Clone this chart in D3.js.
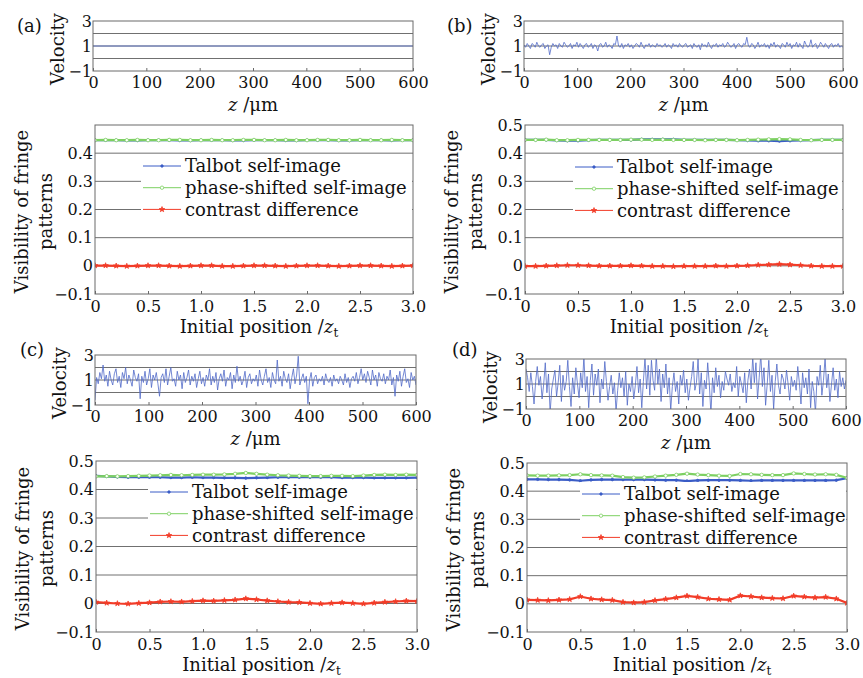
<!DOCTYPE html>
<html>
<head>
<meta charset="utf-8">
<script src="https://cdn.jsdelivr.net/npm/d3@7"></script>
<style>
  html, body { margin: 0; padding: 0; background: #fff; }
</style>
</head>
<body>
<div id="chart"></div>
<script>
// velocity along z (0..600 um), one array per panel
const velA = [1, 1];
const velB = [1.1,0.9,1.2,1.0,0.8,1.2,1.1,0.9,1.3,1.0,0.9,1.1,1.2,0.8,1.0,1.1,0.3,0.9,1.2,1.0,
  1.1,0.8,1.2,1.0,0.9,1.3,1.1,0.9,1.0,1.2,0.8,1.1,1.0,1.3,0.9,1.2,1.0,0.8,1.1,1.2,
  0.9,1.0,1.2,0.8,1.1,1.0,0.6,1.1,1.2,0.9,1.0,1.3,0.9,1.1,1.0,0.8,1.2,1.1,1.8,1.0,
  0.9,1.2,0.8,1.1,1.0,1.2,0.9,1.1,0.8,1.0,1.2,1.1,0.9,1.3,1.0,0.8,1.1,1.0,1.2,0.9,
  1.1,1.0,0.9,1.2,1.0,1.1,0.9,1.0,1.2,0.9,1.1,1.0,0.8,1.2,1.0,1.1,0.9,1.2,1.0,0.9,
  1.1,1.2,0.9,1.0,1.1,0.8,1.2,1.0,0.9,1.1,0.7,1.2,1.0,1.1,0.9,1.3,1.0,0.8,1.1,1.0,
  1.2,0.9,1.1,1.0,1.2,0.9,1.0,1.3,1.1,0.9,1.0,1.2,0.8,1.1,1.2,1.0,0.9,1.2,1.1,1.7,
  1.0,0.9,1.2,1.1,0.8,1.0,1.3,0.9,1.1,1.0,1.2,0.9,1.1,0.8,1.2,1.0,1.3,0.9,1.1,1.0,
  0.8,1.2,1.1,0.9,1.3,1.0,1.2,0.8,1.1,1.0,1.3,0.9,1.2,1.0,0.8,1.4,1.1,0.9,1.0,1.5,
  0.9,1.1,1.2,0.8,1.0,1.3,1.1,0.9,1.2,1.0,0.8,1.1,1.2,0.9,1.1,1.0,1.2,0.9,1.0,0.9];
const velC = [-0.6,1.2,0.7,1.6,1.1,2.2,0.9,1.4,0.5,1.7,1.0,0.6,1.5,1.9,0.8,1.3,0.4,1.6,1.1,2.0,
  0.7,1.4,1.0,0.5,1.8,1.2,0.9,1.5,-0.5,1.3,0.8,1.7,0.6,1.1,1.9,0.4,1.4,1.0,1.6,0.7,
  -0.3,1.2,1.5,0.8,1.9,0.6,1.3,2.0,0.9,1.1,0.5,1.7,1.0,1.4,0.3,1.6,0.8,1.2,1.8,0.6,
  1.3,0.9,1.5,0.4,1.1,1.7,0.7,1.2,0.5,1.4,1.0,1.9,0.6,1.3,0.8,1.6,0.2,1.1,1.5,0.9,
  1.8,0.5,1.2,1.0,1.6,0.3,1.4,0.8,2.1,0.9,1.3,0.6,1.0,1.7,0.4,1.2,1.5,0.7,1.1,0.9,
  1.4,0.5,1.8,1.0,0.6,1.3,1.9,0.8,1.2,0.4,1.6,1.0,0.7,2.6,0.9,1.3,0.5,1.7,1.1,0.8,
  1.5,0.3,1.2,1.9,0.7,1.4,2.9,0.6,1.1,1.5,0.8,1.3,-0.9,1.0,1.6,0.5,1.2,1.4,0.7,1.1,
  0.9,1.3,0.6,1.5,1.0,0.8,1.2,0.5,1.4,0.9,1.1,0.7,1.3,1.0,0.6,1.5,0.8,1.2,0.4,1.1,
  1.3,0.9,1.6,0.7,1.2,1.9,1.0,1.5,0.8,1.7,1.2,0.6,1.8,1.0,1.4,0.5,1.6,1.1,0.9,1.5,
  0.7,1.3,1.0,1.8,0.6,1.2,-0.3,1.4,0.9,1.7,0.5,1.3,1.9,0.8,1.1,0.4,1.6,1.0,1.3,0.6];
const velD = [2.2,1.5,0.4,1.9,0.8,-0.6,1.2,2.4,0.9,1.6,-0.2,1.0,2.7,0.3,1.8,-1.3,0.6,1.4,2.1,0.0,
  1.1,2.5,-0.4,1.7,0.5,1.2,2.9,0.8,-0.8,1.5,0.2,2.3,1.0,-0.1,1.9,0.7,3.2,0.4,1.6,-0.9,
  1.3,2.6,0.1,1.8,0.9,2.2,-0.5,1.4,0.6,2.8,1.2,-0.3,0.8,1.7,0.2,1.1,-1.2,0.5,1.9,0.7,
  1.5,0.0,2.0,-0.7,1.0,0.4,1.6,-0.2,0.9,2.4,0.3,1.4,-0.9,1.2,3.1,0.6,2.5,0.1,2.9,1.3,
  0.5,3.3,1.0,2.2,-0.4,1.8,0.7,2.6,0.2,1.5,-1.1,0.8,1.9,0.4,1.2,-0.6,1.7,0.9,2.1,0.3,
  1.4,-0.3,0.7,1.6,2.8,0.5,1.1,3.0,0.2,1.9,-0.8,1.3,0.6,2.7,1.0,-1.4,1.5,0.3,2.3,0.8,
  1.7,-0.1,1.2,0.5,2.0,1.4,0.9,1.8,0.4,1.1,0.7,2.4,0.0,1.6,1.0,0.3,1.9,-0.5,1.3,2.2,
  0.6,3.2,1.1,2.7,-0.2,1.5,3.4,0.8,2.3,-0.7,1.0,2.9,0.4,1.7,-1.0,1.2,2.6,0.9,0.2,1.8,
  1.4,0.6,2.1,1.0,-0.3,1.6,0.8,1.3,0.5,2.4,1.1,-0.6,1.9,0.7,1.5,0.2,2.2,-0.9,1.2,0.4,
  -1.3,1.6,0.9,2.5,0.1,1.3,3.1,0.7,1.8,-0.4,1.0,2.3,0.5,1.4,-0.1,2.0,0.8,1.5,0.6,1.3];

// fringe visibility vs initial position (0..3 zt, step 0.1)
const talA = [0.446,0.446,0.446,0.445,0.445,0.446,0.446,0.446,0.445,0.445,0.446,0.446,0.446,0.445,0.445,0.446,0.446,0.446,0.445,0.445,0.446,0.446,0.446,0.445,0.445,0.446,0.446,0.446,0.445,0.446,0.446];
const phsA = [0.446,0.447,0.446,0.446,0.447,0.446,0.446,0.447,0.447,0.446,0.446,0.447,0.446,0.446,0.447,0.447,0.446,0.446,0.447,0.446,0.446,0.447,0.447,0.446,0.446,0.447,0.446,0.446,0.447,0.446,0.446];
const conA = [0.001,0.001,0.000,-0.001,0.000,0.001,0.001,0.000,-0.001,0.000,0.001,0.001,-0.001,-0.001,0.000,0.001,0.001,0.000,-0.001,0.000,0.001,0.001,0.000,-0.001,0.000,0.001,0.001,0.000,-0.001,0.000,0.001];

const talB = [0.447,0.447,0.447,0.445,0.444,0.444,0.446,0.447,0.447,0.447,0.447,0.449,0.449,0.449,0.449,0.447,0.447,0.447,0.447,0.447,0.446,0.445,0.444,0.444,0.443,0.444,0.445,0.446,0.447,0.447,0.447];
const phsB = [0.447,0.447,0.448,0.446,0.446,0.447,0.447,0.447,0.447,0.447,0.448,0.448,0.447,0.448,0.447,0.447,0.447,0.446,0.447,0.447,0.446,0.447,0.448,0.449,0.450,0.449,0.447,0.446,0.447,0.447,0.447];
const conB = [-0.001,-0.001,0.000,0.001,0.002,0.002,0.001,0.000,0.000,0.000,0.001,0.000,-0.001,-0.001,-0.002,-0.001,-0.001,-0.001,0.000,-0.001,0.000,0.001,0.003,0.004,0.006,0.004,0.002,0.000,-0.001,-0.001,-0.001];

const talC = [0.448,0.446,0.444,0.443,0.443,0.443,0.443,0.442,0.442,0.443,0.442,0.442,0.441,0.441,0.440,0.441,0.442,0.443,0.443,0.443,0.443,0.443,0.443,0.442,0.442,0.442,0.441,0.441,0.441,0.441,0.442];
const phsC = [0.446,0.447,0.446,0.447,0.448,0.449,0.450,0.451,0.450,0.451,0.452,0.452,0.453,0.455,0.458,0.455,0.452,0.450,0.449,0.448,0.447,0.447,0.448,0.448,0.447,0.449,0.451,0.452,0.451,0.452,0.451];
const conC = [0.005,0.002,0.000,-0.001,0.001,0.003,0.006,0.007,0.006,0.008,0.010,0.009,0.011,0.013,0.017,0.014,0.010,0.007,0.005,0.004,0.001,-0.001,0.001,0.003,0.001,-0.001,0.002,0.005,0.007,0.009,0.008];

const talD = [0.442,0.442,0.441,0.441,0.440,0.437,0.440,0.441,0.441,0.441,0.441,0.441,0.440,0.439,0.439,0.436,0.438,0.439,0.439,0.439,0.438,0.437,0.438,0.438,0.438,0.438,0.438,0.438,0.438,0.439,0.446];
const phsD = [0.456,0.455,0.455,0.456,0.457,0.460,0.457,0.456,0.455,0.450,0.448,0.449,0.452,0.455,0.458,0.462,0.459,0.457,0.455,0.454,0.461,0.460,0.458,0.457,0.457,0.463,0.461,0.459,0.460,0.458,0.447];
const conD = [0.014,0.013,0.012,0.014,0.016,0.026,0.018,0.015,0.013,0.006,0.004,0.006,0.012,0.017,0.022,0.028,0.024,0.018,0.016,0.014,0.029,0.026,0.022,0.020,0.019,0.028,0.025,0.022,0.024,0.018,0.003];

const zTicks = [0, 100, 200, 300, 400, 500, 600];
const velTicks = [-1, 1, 3];
const velGrid = [0, 1, 2];
const posTicks = [0, 0.5, 1.0, 1.5, 2.0, 2.5, 3.0];
const visTicks = [-0.1, 0, 0.1, 0.2, 0.3, 0.4, 0.5];
const visGrid = [0, 0.1, 0.2, 0.3, 0.4];
const seriesNames = ['Talbot self-image', 'phase-shifted self-image', 'contrast difference'];
const seriesColors = ['#3a5cc6', '#7dd062', '#f23c28'];

const gridColor = '#707070';
const frameColor = '#6a6a6a';
const velColor = '#5169c8';

// pick a serif face that is really installed (fontconfig may silently substitute)
const probeCtx = document.createElement('canvas').getContext('2d');
const probeW = (f) => { probeCtx.font = '20px ' + f; return probeCtx.measureText('Talbot self-image 0.123 WTf').width; };
const hasDejaVuSerif = Math.abs(probeW("'DejaVu Serif'") - probeW("'DejaVu Sans'")) > 0.5;
const FONT = hasDejaVuSerif ? "'DejaVu Serif', serif" : "'Liberation Serif', serif";
const tickPx = hasDejaVuSerif ? 16 : 19;
const textPx = hasDejaVuSerif ? 18 : 21.5;
d3.select('head').append('style').text('svg text { font-family: ' + FONT + '; fill: #111; }');

const panels = [
  { tag: '(a)', tagPos: [17, 26], vel: velA, vis: [talA, phsA, conA], top05: false,
    velBox: { l: 93, r: 413, t: 21, b: 71 }, visBox: { l: 95, r: 413, t: 125, b: 294 }, legend: { x: 143, y: 166 } },
  { tag: '(b)', tagPos: [447, 26], vel: velB, vis: [talB, phsB, conB], top05: true,
    velBox: { l: 524, r: 843, t: 21, b: 71 }, visBox: { l: 525, r: 843, t: 125, b: 294 }, legend: { x: 575, y: 167 } },
  { tag: '(c)', tagPos: [20, 350], vel: velC, vis: [talC, phsC, conC], top05: true,
    velBox: { l: 95, r: 416, t: 355, b: 405 }, visBox: { l: 96, r: 417, t: 461, b: 632 }, legend: { x: 150, y: 492 } },
  { tag: '(d)', tagPos: [452, 350], vel: velD, vis: [talD, phsD, conD], top05: true,
    velBox: { l: 526, r: 846, t: 359, b: 409 }, visBox: { l: 527, r: 847, t: 463, b: 632 }, legend: { x: 582, y: 494 } },
];

const svg = d3.select('#chart').append('svg').attr('width', 863).attr('height', 678);

const fmtDec = (d) => (d === 0 ? '0' : d3.format('.1f')(d));
const fmtInt = (d) => d3.format('d')(d);

const styleAxis = (sel) => {
  sel.select('.domain').remove();
  sel.attr('font-size', tickPx).attr('font-family', null);
  sel.selectAll('line').attr('stroke', frameColor);
  sel.selectAll('text').attr('fill', '#111');
};

const drawVelocity = (p, i) => {
  const b = p.velBox;
  const x = d3.scaleLinear().domain([0, 600]).range([b.l, b.r]);
  const y = d3.scaleLinear().domain([-1, 3]).range([b.b, b.t]);
  const g = svg.append('g');

  g.append('clipPath').attr('id', 'clip-vel-' + i)
    .append('rect').attr('x', b.l).attr('y', b.t).attr('width', b.r - b.l).attr('height', b.b - b.t);

  g.selectAll('.grid').data(velGrid).enter().append('line')
    .attr('x1', b.l).attr('x2', b.r)
    .attr('y1', (d) => y(d)).attr('y2', (d) => y(d))
    .attr('stroke', gridColor).attr('stroke-width', 1);

  const n = p.vel.length;
  g.append('path')
    .datum(p.vel)
    .attr('clip-path', 'url(#clip-vel-' + i + ')')
    .attr('fill', 'none')
    .attr('stroke', velColor)
    .attr('stroke-width', 0.8)
    .attr('d', d3.line().x((d, k) => x((k * 600) / (n - 1))).y((d) => y(d)));

  g.append('g').attr('transform', 'translate(0,' + b.b + ')')
    .call(d3.axisBottom(x).tickValues(zTicks).tickFormat(fmtInt).tickSizeInner(-3).tickSizeOuter(0).tickPadding(6))
    .call(styleAxis);

  g.append('g').attr('transform', 'translate(' + b.l + ',0)')
    .call(d3.axisLeft(y).tickValues(velTicks).tickFormat(fmtInt).tickSizeInner(0).tickSizeOuter(0).tickPadding(1))
    .call(styleAxis);

  g.append('rect')
    .attr('x', b.l).attr('y', b.t).attr('width', b.r - b.l).attr('height', b.b - b.t)
    .attr('fill', 'none').attr('stroke', frameColor);

  g.append('text')
    .attr('transform', 'translate(' + (b.l - 35) + ',' + ((b.t + b.b) / 2 + 3) + ') rotate(-90)')
    .attr('text-anchor', 'middle').attr('dy', '0.35em')
    .style('font-size', textPx + 'px')
    .text('Velocity');

  const xl = g.append('text')
    .attr('x', (b.l + b.r) / 2).attr('y', b.b + 40)
    .attr('text-anchor', 'middle')
    .style('font-size', textPx + 'px');
  xl.append('tspan').style('font-style', 'italic').text('z');
  xl.append('tspan').text(' /\u03bcm');

  svg.append('text')
    .attr('x', p.tagPos[0]).attr('y', p.tagPos[1]).attr('dy', '0.35em')
    .style('font-size', textPx + 'px')
    .text(p.tag);
};

const drawVisibility = (p, i) => {
  const b = p.visBox;
  const x = d3.scaleLinear().domain([0, 3]).range([b.l, b.r]);
  const y = d3.scaleLinear().domain([-0.1, 0.5]).range([b.b, b.t]);
  const g = svg.append('g');

  g.append('clipPath').attr('id', 'clip-vis-' + i)
    .append('rect').attr('x', b.l).attr('y', b.t).attr('width', b.r - b.l).attr('height', b.b - b.t);

  g.selectAll('.grid').data(visGrid).enter().append('line')
    .attr('x1', b.l).attr('x2', b.r)
    .attr('y1', (d) => y(d)).attr('y2', (d) => y(d))
    .attr('stroke', gridColor).attr('stroke-width', 1);

  const symbols = [
    d3.symbol().type(d3.symbolCircle).size(5),
    d3.symbol().type(d3.symbolCircle).size(9),
    d3.symbol().type(d3.symbolStar).size(9),
  ];

  p.vis.forEach((series, s) => {
    const n = series.length;
    const px = (k) => x((k * 3) / (n - 1));
    const sg = g.append('g').attr('clip-path', 'url(#clip-vis-' + i + ')');
    sg.append('path')
      .datum(series)
      .attr('fill', 'none')
      .attr('stroke', seriesColors[s])
      .attr('stroke-width', 2.2)
      .attr('d', d3.line().x((d, k) => px(k)).y((d) => y(d)));
    sg.selectAll('.pt').data(series).enter().append('path')
      .attr('transform', (d, k) => 'translate(' + px(k) + ',' + y(d) + ')')
      .attr('d', symbols[s])
      .attr('fill', s === 1 ? '#fff' : seriesColors[s])
      .attr('stroke', seriesColors[s])
      .attr('stroke-width', 0.8);
  });

  // legend
  const lg = p.legend;
  const rowH = 21.7;
  g.append('rect')
    .attr('x', lg.x - 2).attr('y', lg.y - 12)
    .attr('width', b.r - 1 - (lg.x - 2)).attr('height', rowH * 2 + 21)
    .attr('fill', '#fff');
  seriesNames.forEach((name, s) => {
    const yy = lg.y + s * rowH;
    g.append('line')
      .attr('x1', lg.x).attr('x2', lg.x + 38).attr('y1', yy).attr('y2', yy)
      .attr('stroke', seriesColors[s]).attr('stroke-width', 1);
    g.append('path')
      .attr('transform', 'translate(' + (lg.x + 19) + ',' + yy + ')')
      .attr('d', symbols[s])
      .attr('fill', s === 1 ? '#fff' : seriesColors[s])
      .attr('stroke', seriesColors[s]).attr('stroke-width', 0.8);
    g.append('text')
      .attr('x', lg.x + 42).attr('y', yy).attr('dy', '0.35em')
      .style('font-size', textPx + 'px')
      .text(name);
  });

  g.append('g').attr('transform', 'translate(0,' + b.b + ')')
    .call(d3.axisBottom(x).tickValues(posTicks).tickFormat(fmtDec).tickSizeInner(-3).tickSizeOuter(0).tickPadding(7))
    .call(styleAxis);

  const yTicks = p.top05 ? visTicks : visTicks.filter((d) => d < 0.45);
  g.append('g').attr('transform', 'translate(' + b.l + ',0)')
    .call(d3.axisLeft(y).tickValues(yTicks).tickFormat(fmtDec).tickSizeInner(0).tickSizeOuter(0).tickPadding(2))
    .call(styleAxis);

  g.append('rect')
    .attr('x', b.l).attr('y', b.t).attr('width', b.r - b.l).attr('height', b.b - b.t)
    .attr('fill', 'none').attr('stroke', frameColor);

  const cy = (b.t + b.b) / 2 + 2;
  g.append('text')
    .attr('transform', 'translate(' + (b.l - 73) + ',' + cy + ') rotate(-90)')
    .attr('text-anchor', 'middle').attr('dy', '0.35em')
    .style('font-size', textPx + 'px')
    .text('Visibility of fringe');
  g.append('text')
    .attr('transform', 'translate(' + (b.l - 49) + ',' + cy + ') rotate(-90)')
    .attr('text-anchor', 'middle').attr('dy', '0.35em')
    .style('font-size', textPx + 'px')
    .text('patterns');

  const xl = g.append('text')
    .attr('x', (b.l + b.r) / 2 + 5).attr('y', b.b + 39)
    .attr('text-anchor', 'middle')
    .style('font-size', textPx + 'px');
  xl.append('tspan').text('Initial position /');
  xl.append('tspan').style('font-style', 'italic').text('z');
  xl.append('tspan').attr('dy', 4).style('font-size', '12px').text('t');
};

panels.forEach((p, i) => {
  drawVelocity(p, i);
  drawVisibility(p, i);
});
</script>
</body>
</html>
